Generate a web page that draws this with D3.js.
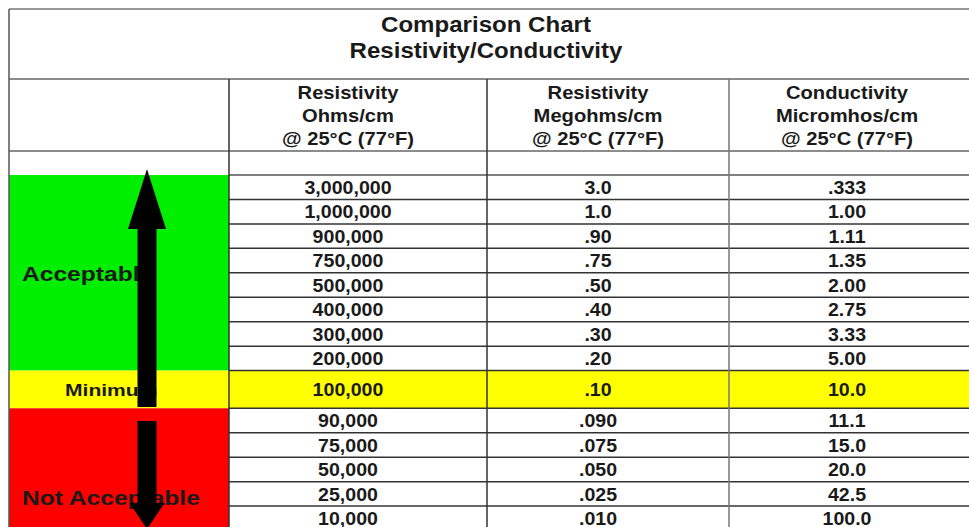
<!DOCTYPE html>
<html>
<head>
<meta charset="utf-8">
<script src="https://cdn.jsdelivr.net/npm/d3@7"></script>
<style>
  html, body { margin: 0; padding: 0; background: #fff; overflow: hidden; }
  svg text { font-family: "Liberation Sans", Arial, sans-serif; font-weight: bold; fill: #1a1a1a; }
</style>
</head>
<body>
<svg id="chart" width="969" height="527"></svg>
<script>
// ---- data ----
const titleLines = ["Comparison Chart", "Resistivity/Conductivity"];
const headers = [
  ["Resistivity", "Ohms/cm", "@ 25°C (77°F)"],
  ["Resistivity", "Megohms/cm", "@ 25°C (77°F)"],
  ["Conductivity", "Micromhos/cm", "@ 25°C (77°F)"]
];
const ohms = ["3,000,000","1,000,000","900,000","750,000","500,000","400,000","300,000","200,000","100,000","90,000","75,000","50,000","25,000","10,000"];
const megohms = ["3.0","1.0",".90",".75",".50",".40",".30",".20",".10",".090",".075",".050",".025",".010"];
const micromhos = [".333","1.00","1.11","1.35","2.00","2.75","3.33","5.00","10.0","11.1","15.0","20.0","42.5","100.0"];
const zone = ["ok","ok","ok","ok","ok","ok","ok","ok","min","bad","bad","bad","bad","bad"];
const zoneLabels = {ok: "Acceptable", min: "Minimum", bad: "Not Acceptable"};
const zoneColors = {ok: "#00ee00", min: "#ffff00", bad: "#ff0000"};

// ---- layout ----
const svg = d3.select("#chart");
const SX = 1.12; // horizontal text stretch
const xEdges = [9, 229, 487, 729, 985];
const tableTop = 9, titleBottom = 79, headerBottom = 151, dataTop = 175;
const rowH = 24.45, minRowH = 37.7;

const rowHeights = zone.map(z => z === "min" ? minRowH : rowH);
const cum = d3.cumsum(rowHeights);
const rowTop = i => dataTop + (i === 0 ? 0 : cum[i - 1]);
const yScale = d3.scaleOrdinal().domain(d3.range(zone.length)).range(d3.range(zone.length).map(rowTop));

const colX = d3.scaleOrdinal().domain([0,1,2,3]).range(xEdges.slice(0,4));
const colW = i => xEdges[i+1] - xEdges[i];
const colCenter = i => colX(i) + colW(i) / 2 - 10;

function stretchedText(g, x, y, txt, size, anchor, sx) {
  return g.append("text")
    .attr("transform", `translate(${x},${y}) scale(${sx || SX},1)`)
    .attr("text-anchor", anchor || "middle")
    .style("font-size", size + "px")
    .text(txt);
}

// zone backgrounds in first column (merged cells)
const zoneGroups = d3.groups(d3.range(zone.length), i => zone[i]);
zoneGroups.forEach(([z, idx]) => {
  const y0 = yScale(idx[0]);
  const last = idx[idx.length - 1];
  const y1 = last === zone.length - 1 ? 540 : yScale(last) + rowHeights[last];
  svg.append("rect").attr("x", xEdges[0]).attr("y", y0)
    .attr("width", colW(0)).attr("height", y1 - y0).attr("fill", zoneColors[z]);
});

// yellow highlight across data columns
zone.forEach((z, i) => {
  if (z === "min") {
    svg.append("rect").attr("x", xEdges[1]).attr("y", yScale(i))
      .attr("width", xEdges[4] - xEdges[1]).attr("height", rowHeights[i]).attr("fill", zoneColors.min);
  }
});

// grid lines
const lineG = svg.append("g");
const hLine = (x1, x2, y, c) => lineG.append("line").attr("x1", x1).attr("x2", x2).attr("y1", y).attr("y2", y)
  .attr("stroke", c || "#555").attr("stroke-width", 1.5);
const vLine = (x, y1, y2, c) => lineG.append("line").attr("x1", x).attr("x2", x).attr("y1", y1).attr("y2", y2)
  .attr("stroke", c || "#666").attr("stroke-width", 1.5);

hLine(xEdges[0], xEdges[4], tableTop, "#777");
hLine(xEdges[0], xEdges[4], titleBottom, "#666");
hLine(xEdges[0], xEdges[4], headerBottom, "#666");
hLine(xEdges[1], xEdges[4], dataTop, "#555");
zone.forEach((z, i) => { if (i > 0) hLine(xEdges[1], xEdges[4], yScale(i), "#333"); });
vLine(xEdges[0], tableTop, 540, "#555");
[1, 2].forEach(k => vLine(xEdges[k], titleBottom, 540, "#333"));
vLine(xEdges[3], titleBottom, 540, "#777");

// title
const tg = svg.append("g");
[32.3, 57.8].forEach((y, i) => stretchedText(tg, (xEdges[0] + xEdges[4]) / 2 - 11, y, titleLines[i], 21.5));

// headers
const hg = svg.append("g");
headers.forEach((lines, c) => {
  [98.5, 121.5, 144.5].forEach((y, k) => stretchedText(hg, colCenter(c + 1), y, lines[k], 18));
});

// data cells
const dataCols = [ohms, megohms, micromhos];
const dg = svg.append("g");
dataCols.forEach((col, c) => {
  col.forEach((v, i) => {
    const base = yScale(i) + (zone[i] === "min" ? 25.5 : 19);
    stretchedText(dg, colCenter(c + 1), base, v, 17.5);
  });
});

// zone labels
const lg = svg.append("g");
const minIdx = zoneGroups.find(d => d[0] === "min")[1];
stretchedText(lg, 22, 281, zoneLabels.ok, 20.5, "start", 1.2);
stretchedText(lg, 65, yScale(minIdx[0]) + 25.5, zoneLabels.min, 17, "start", 1.24);
stretchedText(lg, 22, 505, zoneLabels.bad, 21, "start", 1.17);

// arrows
const ax = 147;
const upArrow = [[ax, 169], [ax + 19, 229], [ax + 9.5, 229], [ax + 9.5, 407], [ax - 9.5, 407], [ax - 9.5, 229], [ax - 19, 229]];
const downArrow = [[ax - 9.5, 421], [ax + 9.5, 421], [ax + 9.5, 503], [ax + 17.5, 503], [ax, 529], [ax - 17.5, 503], [ax - 9.5, 503]];
svg.append("g").selectAll("polygon").data([upArrow, downArrow]).join("polygon")
  .attr("points", d => d.map(p => p.join(",")).join(" "))
  .attr("fill", "#000");
</script>
</body>
</html>
